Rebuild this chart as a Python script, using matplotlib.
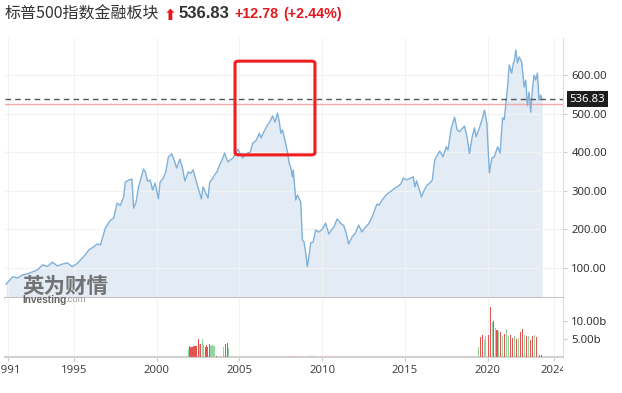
import matplotlib
matplotlib.use('Agg')
import matplotlib.pyplot as plt
from matplotlib.patches import FancyBboxPatch
from matplotlib.transforms import Bbox, TransformedBbox, blended_transform_factory

plt.rcParams['font.family'] = ['Noto Sans', 'Noto Sans CJK SC', 'DejaVu Sans']

# ---- data ----
title_cn = '标普500指数金融板块'
last_price = 536.83
prev_close = 524.05
change_txt = '+12.78'
change_pct = '(+2.44%)'

price_years = [1990.9, 1991.3, 1991.6, 1991.9, 1992.2, 1992.5, 1992.8, 1993.1, 1993.4, 1993.7,
               1994.0, 1994.3, 1994.6, 1994.9, 1995.2, 1995.4, 1995.7, 1995.9, 1996.2, 1996.4,
               1996.6, 1996.9, 1997.2, 1997.4, 1997.6, 1997.8, 1998.0, 1998.1, 1998.3, 1998.5,
               1998.6, 1998.75, 1998.9, 1999.2, 1999.3, 1999.45, 1999.6, 1999.75, 1999.9, 2000.1,
               2000.2, 2000.4, 2000.55, 2000.7, 2000.9, 2001.05, 2001.2, 2001.4, 2001.55, 2001.7,
               2001.9, 2002.05, 2002.2, 2002.4, 2002.55, 2002.7, 2002.8, 2002.95, 2003.1, 2003.2,
               2003.35, 2003.5, 2003.65, 2003.8, 2003.95, 2004.1, 2004.2, 2004.3, 2004.45, 2004.6,
               2004.75, 2004.9, 2005.05, 2005.2, 2005.35, 2005.5, 2005.65, 2005.8, 2006.0, 2006.2,
               2006.3, 2006.5, 2006.7, 2006.85, 2007.0, 2007.15, 2007.3, 2007.4, 2007.5, 2007.6,
               2007.75, 2007.9, 2008.0, 2008.1, 2008.2, 2008.25, 2008.4, 2008.5, 2008.7, 2008.8,
               2008.9, 2009.0, 2009.1, 2009.2, 2009.3, 2009.45, 2009.6, 2009.8, 2010.0, 2010.2,
               2010.4, 2010.55, 2010.7, 2010.9, 2011.1, 2011.3, 2011.45, 2011.6, 2011.8, 2012.0,
               2012.2, 2012.4, 2012.6, 2012.8, 2013.0, 2013.1, 2013.3, 2013.45, 2013.6, 2013.9,
               2014.1, 2014.4, 2014.6, 2014.75, 2014.9, 2015.1, 2015.3, 2015.5, 2015.6, 2015.7,
               2016.0, 2016.2, 2016.35, 2016.5, 2016.65, 2016.8, 2017.1, 2017.3, 2017.5, 2017.6,
               2017.8, 2018.0, 2018.15, 2018.3, 2018.6, 2018.75, 2018.9, 2019.05, 2019.2, 2019.3,
               2019.5, 2019.7, 2019.8, 2019.95, 2020.1, 2020.25, 2020.4, 2020.6, 2020.75, 2020.9,
               2021.0, 2021.2, 2021.3, 2021.45, 2021.55, 2021.6, 2021.7, 2021.8, 2021.9, 2022.05,
               2022.2, 2022.3, 2022.4, 2022.5, 2022.6, 2022.7, 2022.8, 2022.9, 2023.0, 2023.05,
               2023.1, 2023.2, 2023.28]
price_values = [58, 77, 74, 82, 85, 90, 95, 108, 104, 115,
                105, 110, 113, 103, 112, 121, 135, 147, 155, 162,
                160, 204, 224, 229, 268, 262, 284, 322, 328, 330,
                255, 270, 310, 356, 350, 325, 328, 302, 320, 279,
                322, 333, 350, 387, 396, 380, 359, 382, 360, 325,
                349, 345, 354, 322, 300, 279, 310, 295, 281, 322,
                330, 341, 350, 367, 380, 398, 385, 375, 380, 385,
                395, 408, 395, 385, 392, 398, 400, 423, 430, 449,
                437, 455, 471, 480, 494, 478, 501, 480, 449, 458,
                430, 400, 372, 360, 336, 354, 276, 289, 271, 173,
                167, 140, 103, 130, 165, 167, 198, 193, 200, 216,
                188, 198, 205, 227, 216, 210, 190, 162, 180, 190,
                211, 193, 205, 214, 230, 242, 265, 263, 275, 291,
                297, 307, 312, 318, 333, 328, 332, 336, 310, 326,
                284, 305, 315, 320, 328, 380, 403, 388, 414, 406,
                463, 491, 458, 453, 468, 440, 396, 437, 463, 440,
                463, 491, 509, 475, 346, 385, 388, 414, 398, 489,
                484, 569, 626, 605, 631, 634, 665, 631, 647, 634,
                569, 587, 521, 556, 504, 562, 600, 587, 605, 574,
                535, 548, 536.83]

# volume in billions, up = green, down = red
vol_years = [2001.91, 2001.97, 2002.05, 2002.13, 2002.25, 2002.33, 2002.41, 2002.51, 2002.59, 2002.65,
             2002.75, 2002.81, 2002.92, 2002.99, 2003.08, 2003.18, 2003.26, 2003.34, 2003.42, 2003.48,
             2003.62, 2004.06, 2004.14, 2004.25, 2004.32,
             2019.43, 2019.55, 2019.67, 2019.79, 2019.89, 2020.03, 2020.15, 2020.27, 2020.37, 2020.46,
             2020.56, 2020.68, 2020.80, 2020.92, 2021.04, 2021.16, 2021.28, 2021.40, 2021.52, 2021.64,
             2021.76, 2021.88, 2022.00, 2022.12, 2022.24, 2022.36, 2022.48, 2022.60, 2022.72, 2022.84,
             2022.96, 2023.13, 2023.25]
vol_values = [2.2, 3.1, 2.7, 2.7, 3.1, 3.0, 3.1, 5.0, 3.6, 3.6,
              4.9, 3.3, 2.7, 3.3, 2.7, 3.6, 3.1, 3.3, 3.1, 3.1,
              0.3, 2.7, 3.6, 3.9, 2.4,
              2.7, 5.5, 6.2, 4.7, 5.7, 6.2, 14.0, 9.6, 10.0, 8.1,
              7.6, 7.2, 7.0, 5.7, 6.5, 7.8, 5.7, 6.2, 5.2, 5.7,
              5.0, 5.2, 6.9, 7.8, 6.2, 5.9, 5.7, 4.7, 5.7, 6.2,
              5.5, 0.5, 0.5]
vol_up = [1, 0, 0, 0, 0, 0, 0, 0, 1, 0,
          1, 1, 0, 0, 0, 0, 1, 1, 1, 1,
          0, 1, 0, 0, 1,
          1, 0, 0, 1, 1, 0, 0, 1, 0, 1,
          0, 1, 0, 1, 0, 1, 1, 0, 0, 1,
          0, 1, 0, 0, 1, 0, 1, 0, 0, 1,
          0, 0, 0]
# faint low-volume period 2007-2012
thin_years = [2007.6, 2007.8, 2008.0, 2008.2, 2008.4, 2008.6, 2008.8, 2009.0, 2009.2, 2009.35,
              2009.5, 2009.7, 2009.9, 2010.1, 2010.3, 2010.5, 2010.7, 2010.9, 2011.1, 2011.3,
              2011.5, 2011.9, 2012.1, 2012.3]
thin_values = [0.2, 0.3, 0.3, 0.3, 0.3, 0.3, 0.3, 0.3, 0.4, 0.6,
               0.5, 0.3, 0.4, 0.3, 0.3, 0.3, 0.3, 0.3, 0.3, 0.3,
               0.3, 0.3, 0.3, 0.3]
thin_up = [1, 0, 0, 0, 0, 0, 0, 1, 0, 1,
           1, 1, 0, 1, 1, 0, 1, 0, 1, 1,
           0, 0, 1, 0]

year_ticks = [1991, 1995, 2000, 2005, 2010, 2015, 2020, 2024]
price_ticks = [100, 200, 300, 400, 500, 600]
vol_ticks = [5, 10]
box_years = (2004.73, 2009.56)
box_prices = (393, 636)

# ---- figure ----
W, H = 622, 393
fig = plt.figure(figsize=(W / 100, H / 100), dpi=100)
ax = fig.add_axes([5 / W, 1 - 298 / H, 558 / W, 260 / H])
axv = fig.add_axes([5 / W, 1 - 357 / H, 558 / W, 59 / H], sharex=ax)

grid_c = '#f2f2f2'
line_c = '#7eb0da'
fill_c = '#e3ecf5'

ax.fill_between(price_years, price_values, 0, color=fill_c, lw=0, zorder=1)
ax.plot(price_years, price_values, color=line_c, lw=1.0, zorder=3)
ax.axhline(prev_close, color='#f4a8a8', lw=1.0, zorder=2)
ax.axhline(last_price, color='#555555', lw=1.0, ls=(0, (4, 3)), zorder=4)

ax.set_xlim(1990.83, 2024.55)
ax.set_ylim(22, 696)
ax.set_yticks(price_ticks)
ax.set_yticklabels(['%.2f' % v for v in price_ticks])
ax.yaxis.tick_right()
ax.tick_params(axis='y', length=3, width=0.8, color='#cccccc', labelsize=8.2,
               labelcolor='#333333', pad=3)
ax.tick_params(axis='x', length=0, labelbottom=False)
ax.grid(True, color=grid_c, lw=0.8, zorder=0)
for s in ['top', 'left']:
    ax.spines[s].set_visible(False)
ax.spines['right'].set_color('#dddddd')
ax.spines['bottom'].set_color('#c4c4c4')
ax.spines['bottom'].set_linewidth(1.5)

# current price tag
tr = blended_transform_factory(ax.transAxes, ax.transData)
ax.text(1.012, last_price, '%.2f' % last_price, transform=tr, ha='left', va='center',
        color='white', fontsize=8.2,
        bbox=dict(boxstyle='square,pad=0.22', fc='#1e1e1e', ec='none'), zorder=10, clip_on=False)

# red highlight box
box = FancyBboxPatch((box_years[0], box_prices[0]), box_years[1] - box_years[0],
                     box_prices[1] - box_prices[0], boxstyle='round,pad=0,rounding_size=0.25',
                     fill=False, ec='#f21d1d', lw=2.2, zorder=6, mutation_aspect=20)
ax.add_patch(box)

# volume bars
red_c, green_c = '#e05552', '#96d3a2'
axv.bar(vol_years, vol_values, width=0.065, color=[green_c if u else red_c for u in vol_up],
        lw=0, zorder=3)
axv.bar(thin_years, thin_values, width=0.065,
        color=['#bfe6c7' if u else '#f2b3b3' for u in thin_up], lw=0, zorder=3)
axv.set_ylim(0, 16.4)
axv.set_yticks(vol_ticks)
axv.set_yticklabels(['%.2fb' % v for v in vol_ticks])
axv.yaxis.tick_right()
axv.tick_params(axis='y', length=3, width=0.8, color='#cccccc', labelsize=8.2,
                labelcolor='#333333', pad=3)
axv.set_xticks(year_ticks)
axv.set_xticklabels([str(y) for y in year_ticks])
axv.tick_params(axis='x', length=3, width=0.8, color='#cccccc', labelsize=8.2,
                labelcolor='#444444', pad=3)
axv.grid(True, axis='x', color=grid_c, lw=0.8, zorder=0)
ax.set_xticks(year_ticks)
for s in ['top', 'left']:
    axv.spines[s].set_visible(False)
axv.spines['right'].set_color('#dddddd')
axv.spines['bottom'].set_color('#d0d0d0')
axv.spines['bottom'].set_linewidth(1.5)

# clip the x labels at the right edge of the plot, like the reference
clip = TransformedBbox(Bbox([[0, 0], [563 / W, 1]]), fig.transFigure)
for lab in axv.get_xticklabels():
    lab.set_clip_box(clip)
    lab.set_clip_on(True)

# title row
fig.text(5 / W, 1 - 14 / H, title_cn, fontsize=11.5, color='#333333', va='center',
         family=['Noto Sans CJK SC', 'DejaVu Sans'])
fig.text(164 / W, 1 - 15 / H, '⬆', fontsize=11, color='#e3171d', va='center',
         family=['DejaVu Sans'], weight='bold')
fig.text(179 / W, 1 - 14 / H, '%.2f' % last_price, fontsize=12, color='#333333',
         va='center', weight='bold', family=['Liberation Sans'])
fig.text(234 / W, 1 - 14 / H, change_txt, fontsize=10.3, color='#e3171d', va='center',
         weight='bold', family=['Liberation Sans'])
fig.text(283 / W, 1 - 14 / H, change_pct, fontsize=10.3, color='#e3171d', va='center',
         weight='bold', family=['Liberation Sans'])

# watermark
fig.text(22 / W, 1 - 286 / H, '英为财情', fontsize=15.5, color='#666666', va='center',
         weight='bold', family=['Noto Sans CJK SC'], alpha=0.9, zorder=20)
fig.text(22 / W, 1 - 300 / H, 'Investing', fontsize=7.3, color='#666666', va='center',
         weight='bold', family=['Liberation Sans'], zorder=20)
fig.text(65 / W, 1 - 300 / H, '.com', fontsize=6.8, color='#9a9a9a', va='center',
         family=['Liberation Sans'], zorder=20)

fig.savefig('out.png', dpi=100)
